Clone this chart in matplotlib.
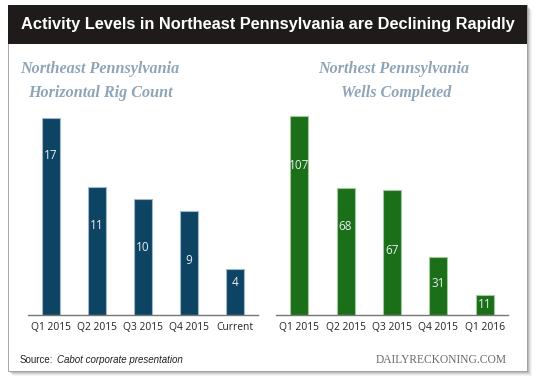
import matplotlib.pyplot as plt
from matplotlib.patches import Rectangle

# data
rig_quarters = ["Q1 2015", "Q2 2015", "Q3 2015", "Q4 2015", "Current"]
rig_counts = [17, 11, 10, 9, 4]
well_quarters = ["Q1 2015", "Q2 2015", "Q3 2015", "Q4 2015", "Q1 2016"]
wells_completed = [107, 68, 67, 31, 11]

# where the value label sits inside each bar (fraction of bar height)
rig_label_frac = [0.81, 0.70, 0.58, 0.52, 0.69]
well_label_frac = [0.75, 0.70, 0.52, 0.55, 0.49]

W, H = 540, 382
fig = plt.figure(figsize=(W / 100, H / 100), dpi=100)
fig.patch.set_facecolor("white")


def px(x, y):
    return x / W, 1 - y / H


# frame with a soft shadow
for off, alpha in [(5, 0.06), (4, 0.09), (3, 0.13), (2, 0.18), (1, 0.25)]:
    fig.patches.append(Rectangle(px(8 + off, 371 + off), 519 / W, 366 / H,
                                 transform=fig.transFigure, facecolor="#555555",
                                 edgecolor="none", alpha=alpha, zorder=0))
fig.patches.append(Rectangle(px(8, 371), 519 / W, 366 / H, transform=fig.transFigure,
                             facecolor="white", edgecolor="#9a9a9a", linewidth=0.6, zorder=1))
fig.patches.append(Rectangle(px(8, 44), 519 / W, 39 / H, transform=fig.transFigure,
                             facecolor="#1f1b1b", edgecolor="none", zorder=2))

fig.text(*px(268, 25), "Activity Levels in Northeast Pennsylvania are Declining Rapidly",
         color="white", fontsize=11.8, fontweight="bold", family="Liberation Sans",
         ha="center", va="center", zorder=3)

sub_kw = dict(color="#8ea5b8", fontsize=11.6, fontweight="bold", style="italic",
              family="Liberation Serif", ha="center", va="center", zorder=3)
fig.text(*px(100, 69), "Northeast Pennsylvania", **sub_kw)
fig.text(*px(100, 93), "Horizontal Rig Count", **sub_kw)
fig.text(*px(394, 69), "Northest Pennsylvania", **sub_kw)
fig.text(*px(396, 93), "Wells Completed", **sub_kw)


def bar_panel(rect, cats, vals, fracs, top, color, edge):
    ax = fig.add_axes(rect, zorder=5)
    ax.set_facecolor("none")
    x = range(len(cats))
    ax.bar(x, vals, width=0.39, color=color, edgecolor=edge, linewidth=0.8, zorder=2)
    for i, (v, f) in enumerate(zip(vals, fracs)):
        ax.text(i, v * f, str(v), color="#e8eef2", fontsize=8.5, family="Open Sans",
                ha="center", va="center", zorder=3)
    ax.set_xlim(-0.5, len(cats) - 0.5)
    ax.set_ylim(0, top)
    ax.set_xticks(list(x))
    ax.set_xticklabels(cats, family="Open Sans", fontsize=7.4, color="#222222")
    ax.tick_params(axis="x", length=0, pad=5)
    ax.set_yticks([])
    for s in ["top", "right", "left"]:
        ax.spines[s].set_visible(False)
    ax.spines["bottom"].set_color("#777777")
    ax.spines["bottom"].set_linewidth(1.0)
    return ax


bottom = 1 - 315 / H
height = 210 / H
bar_panel([28 / W, bottom, 230 / W, height], rig_quarters, rig_counts, rig_label_frac,
          18.1, "#0e4463", "#9fb9ca")
bar_panel([276 / W, bottom, 232 / W, height], well_quarters, wells_completed, well_label_frac,
          112.7, "#1b6f18", "#a3c99c")

fig.text(*px(20, 360), "Source:", fontsize=7, family="Liberation Sans", color="#222222",
         ha="left", va="center", zorder=3)
fig.text(*px(57, 360), "Cabot corporate presentation", fontsize=7, style="italic",
         family="Liberation Sans", color="#222222", ha="left", va="center", zorder=3)
fig.text(*px(507, 360), "DAILYRECKONING.COM", fontsize=8.3, family="Liberation Serif",
         color="#6a6a6a", ha="right", va="center", zorder=3)

fig.savefig("out.png", dpi=100)
